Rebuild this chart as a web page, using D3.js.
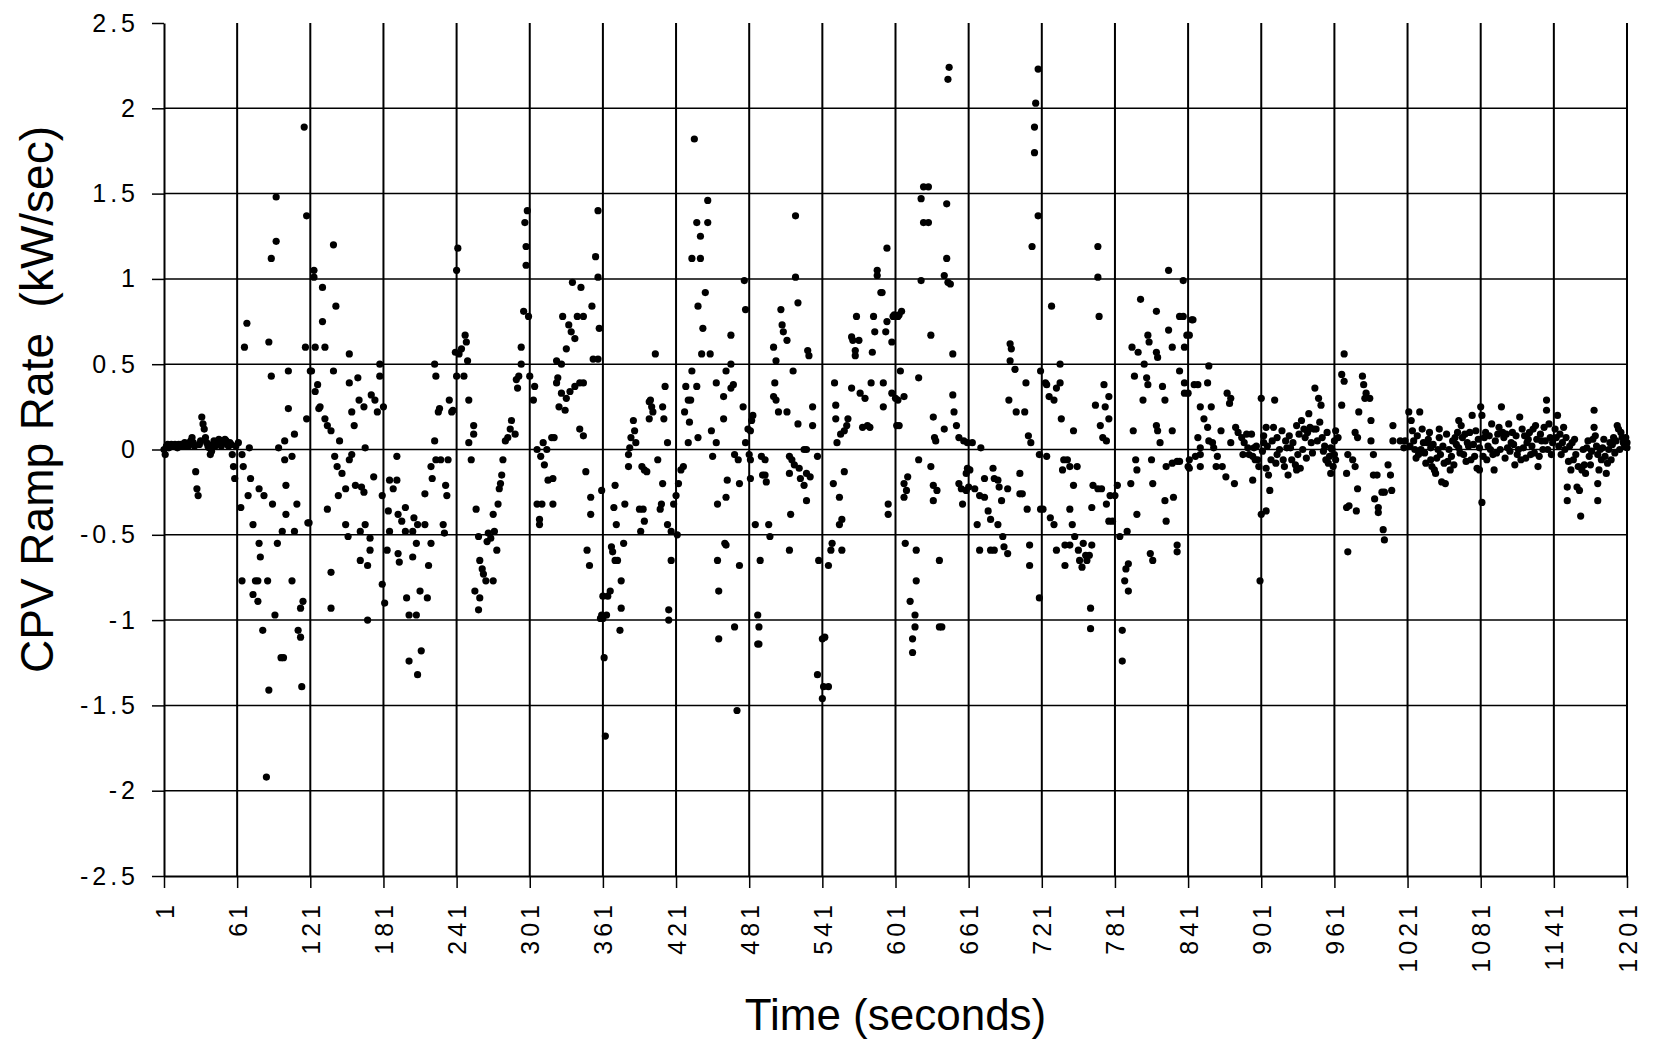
<!DOCTYPE html>
<html lang="en">
<head>
<meta charset="UTF-8">
<title>CPV Ramp Rate</title>
<script src="https://d3js.org/d3.v7.min.js"></script>
<style>
  body { margin: 0; background: #fff; }
  svg { display: block; font-family: Arial, "Liberation Sans", sans-serif; }
</style>
</head>
<body>
<div id="chart"></div>
<script>
// ramp rate samples as [second, kW/sec] in 2-minute windows
const win0001 = [[1,0.00],[2,-0.03],[3,0.02],[4,0.03],[5,0.01],[6,0.02],[7,0.03],[8,0.02],[9,0.02],[10,0.03],[11,0.02],[12,0.01],[13,0.03],[14,0.02],[15,0.03],[16,0.02],[17,0.03],[18,0.04],[19,0.02],[20,0.03],[21,0.02],[22,0.04],[23,0.05],[24,0.07],[25,0.04],[26,0.02],[27,-0.13],[28,-0.23],[29,-0.27],[30,0.03],[31,0.05],[32,0.19],[33,0.15],[34,0.12],[35,0.07],[36,0.04],[37,0.02],[38,0.01],[39,-0.03],[40,-0.01],[41,0.03],[42,0.05],[43,0.02],[44,0.03],[45,0.04],[46,0.06],[47,0.05],[48,0.02],[49,0.05],[50,0.04],[51,0.06],[52,0.05],[53,0.03],[54,0.02],[55,0.04],[56,0.03],[57,-0.03],[58,-0.10],[59,-0.17],[60,0.02],
  [116,1.89],[93,1.48],[118,1.37],[93,1.22],[89,1.12],[69,0.74],[67,0.60],[87,0.63],[117,0.60],[89,0.43],[103,0.46],[121,0.46],[103,0.24],[118,0.18],[108,0.09],[100,0.05],[95,0.01],[71,0.01],[65,-0.03],[62,0.04],[66,-0.10],[100,-0.06],[106,-0.04],[72,-0.17],[70,-0.27],[79,-0.23],[83,-0.27],[90,-0.32],[101,-0.21],[110,-0.32],[64,-0.34],[74,-0.44],[101,-0.38],[119,-0.43],[98,-0.48],[108,-0.48],[79,-0.55],[94,-0.55],[80,-0.63],[65,-0.77],[76,-0.77],[78,-0.77],[86,-0.77],[106,-0.77],[74,-0.85],[78,-0.89],[92,-0.97],[113,-0.93],[115,-0.89],[82,-1.06],[111,-1.06],[113,-1.10],[97,-1.22],[99,-1.22],[87,-1.41],[114,-1.39],[85,-1.92]];

const win0121 = [[140,1.20],[124,1.05],[124,1.01],[131,0.95],[142,0.84],[131,0.75],[125,0.60],[133,0.60],[153,0.56],[178,0.50],[178,0.43],[122,0.46],[140,0.46],[127,0.38],[125,0.34],[153,0.39],[160,0.42],[129,0.25],[128,0.24],[155,0.22],[161,0.29],[165,0.25],[171,0.32],[174,0.29],[176,0.22],[181,0.25],[133,0.18],[135,0.14],[138,0.11],[157,0.14],[145,0.05],[166,0.01],[141,-0.04],[153,-0.06],[155,-0.03],[143,-0.10],[147,-0.14],[150,-0.23],[144,-0.27],[158,-0.21],[163,-0.22],[165,-0.25],[173,-0.16],[180,-0.27],[135,-0.35],[120,-0.43],[150,-0.44],[152,-0.51],[166,-0.44],[162,-0.48],[170,-0.52],[170,-0.59],[162,-0.65],[168,-0.68],[138,-0.72],[138,-0.93],[168,-1.00],
  [192,-0.04],[186,-0.18],[192,-0.18],[189,-0.23],[180,-0.79],[182,-0.90],[185,-0.36],[186,-0.48],[184,-0.59],[193,-0.38],[199,-0.34],[196,-0.42],[199,-0.48],[206,-0.40],[209,-0.44],[215,-0.44],[205,-0.48],[208,-0.55],[220,-0.55],[193,-0.61],[194,-0.66],[205,-0.63],[218,-0.68],[200,-0.87],[211,-0.83],[217,-0.87],[202,-0.97],[208,-0.97],[202,-1.24],[212,-1.18],[209,-1.32],[215,-0.26],[220,-0.10],[221,-0.17],[224,-0.06],[228,-0.06],[234,-0.06],[232,-0.21],[233,-0.27],[230,-0.44],[231,-0.49],[223,0.05],[223,0.50],[224,0.43],[226,0.22],[227,0.24],[235,0.29],[237,0.22],[238,0.23],[242,1.18],[241,1.05],[240,0.57],[241,0.43]];

const win0241 = [[248,0.67],[249,0.63],[245,0.59],[243,0.56],[250,0.52],[247,0.43],[251,0.29],[255,0.14],[255,0.09],[251,0.04],[253,-0.06],[257,-0.35],[259,-0.51],[260,-0.65],[262,-0.70],[263,-0.73],[265,-0.77],[271,-0.77],[256,-0.83],[260,-0.87],[259,-0.94],[267,-0.49],[269,-0.52],[272,-0.48],[274,-0.59],[266,-0.54],[271,-0.38],[275,-0.32],[276,-0.23],[277,-0.20],[278,-0.15],[279,-0.06],[281,0.05],[283,0.07],[285,0.12],[286,0.17],[289,0.09],[291,0.36],[290,0.41],[292,0.43],[294,0.50],[294,0.60],[296,0.81],[300,0.78],[298,1.08],[298,1.19],[297,1.33],[299,1.40],[301,0.43],[305,0.37],[304,0.29],[307,0.00],[310,-0.04],[312,0.04],[313,-0.09],[315,0.00],[319,0.07],[321,0.07],[316,-0.18],[320,-0.17],[307,-0.32],[311,-0.32],[309,-0.41],[309,-0.44],[320,-0.32],[323,0.52],[327,0.50],[324,0.42],[323,0.39],[327,0.33],[325,0.25],[330,0.23],[331,0.30],[334,0.34],[338,0.37],[342,0.39],[345,0.39],[328,0.78],[331,0.59],[333,0.73],[335,0.69],[338,0.65],[336,0.98],[343,0.95],[340,0.78],[345,0.78],[352,0.84],[353,0.53],[357,0.53],[358,0.71],[357,1.01],[355,1.13],[357,1.40],[342,0.12],[345,0.08],[347,-0.13],[351,-0.28],[351,-0.38],[348,-0.59],[350,-0.68],[360,-0.24],[361,-0.86],[360,-0.97],[362,-1.22],[363,-1.68]];

const win0361 = [[361,-0.99],[364,-0.97],[359,-0.99],[365,-0.86],[367,-0.83],[375,-1.06],[376,-0.93],[376,-0.77],[368,-0.57],[369,-0.60],[371,-0.65],[373,-0.65],[378,-0.55],[371,-0.21],[370,-0.34],[372,-0.44],[379,-0.32],[382,-0.10],[382,-0.03],[383,0.01],[384,0.07],[387,0.11],[386,0.17],[388,0.04],[391,-0.35],[394,-0.35],[392,-0.48],[395,-0.42],[393,-0.10],[395,-0.12],[397,-0.13],[399,0.18],[399,0.28],[401,0.25],[402,0.22],[400,0.29],[406,-0.06],[404,0.56],[409,-0.32],[408,-0.35],[410,-0.20],[410,0.25],[411,0.18],[412,0.37],[414,0.04],[414,-0.44],[417,-0.48],[419,-0.32],[417,-0.65],[415,-0.94],[415,-1.00],[422,-0.50],[421,-0.27],[423,-0.20],[425,-0.12],[427,-0.10],[431,0.04],[432,0.16],[428,0.22],[429,0.37],[438,0.37],[434,0.46],[431,0.29],[433,0.29],[439,0.07],[436,1.82],[447,1.46],[438,1.33],[447,1.33],[441,1.25],[434,1.12],[441,1.12],[445,0.92],[439,0.84],[443,0.71],[442,0.56],[449,0.56],[451,-0.04],[450,0.11],[454,0.39],[454,0.04],[460,0.31],[460,0.18],[456,-0.83],[456,-1.11],[455,-0.32],[461,-0.55],[462,-0.56],[455,-0.65],[462,-0.28],[463,-0.18],[462,0.46],[466,0.67],[466,0.50],[466,0.36],[468,0.38],[477,0.99],[478,0.82],[469,-0.03],[472,-0.06],[473,-0.20],[476,0.25],[478,0.04],[480,0.12],[482,-0.17],[473,-0.68],[469,-1.04],[471,-1.53]];

const win0481 = [[482,0.11],[483,0.17],[484,0.20],[481,-0.03],[482,-0.06],[486,-0.44],[490,-0.65],[488,-0.97],[489,-1.04],[488,-1.14],[489,-1.14],[491,-0.04],[494,-0.06],[494,-0.15],[492,-0.15],[495,-0.19],[497,-0.44],[498,-0.51],[501,0.60],[503,0.52],[502,0.39],[501,0.31],[503,0.29],[505,0.22],[512,0.22],[507,0.82],[508,0.73],[509,0.69],[512,0.64],[514,-0.59],[515,-0.38],[514,-0.14],[514,-0.04],[516,-0.06],[518,-0.09],[517,0.46],[519,1.37],[519,1.01],[521,0.86],[521,0.15],[522,-0.11],[523,-0.17],[526,0.00],[526,-0.21],[528,-0.30],[528,0.00],[528,-0.14],[529,0.58],[530,0.55],[531,-0.16],[533,0.25],[533,0.14],[537,-0.04],[538,-0.65],[541,-1.11],[543,-1.10],[537,-1.32],[542,-1.39],[546,-1.39],[541,-1.46],[546,-0.68],[548,-0.59],[549,-0.55],[557,-0.59],[550,-0.20],[555,-0.28],[555,-0.44],[557,-0.41],[559,-0.13],[551,0.39],[552,0.26],[552,0.18],[553,0.04],[556,0.09],[559,0.11],[561,0.14],[562,0.18],[565,0.36],[565,0.66],[566,0.64],[568,0.58],[568,0.55],[569,0.78],[571,0.64],[572,0.33],[574,0.13],[576,0.30],[578,0.14],[580,0.13],[582,0.57],[583,0.78],[581,0.39],[584,0.69],[586,1.02],[586,1.05],[589,0.92],[590,0.92],[593,0.69],[594,0.75],[591,0.39],[591,0.25],[594,1.18],[598,0.63],[599,0.78],[600,0.79],[598,0.33],[601,0.30],[595,-0.32],[595,-0.38],[602,0.14]];

const win0601 = [[603,0.78],[606,0.81],[604,0.79],[605,0.46],[603,0.29],[604,0.14],[608,0.31],[608,-0.20],[611,-0.16],[610,-0.24],[608,-0.28],[609,-0.55],[618,-0.59],[618,-0.77],[613,-0.89],[617,-0.97],[617,-1.04],[615,-1.11],[615,-1.19],[620,0.42],[620,-0.06],[622,0.99],[622,1.47],[624,1.54],[628,1.54],[624,1.33],[628,1.33],[630,0.67],[630,-0.10],[632,0.19],[633,0.07],[634,0.05],[632,-0.21],[635,-0.24],[632,-0.30],[637,-0.65],[637,-1.04],[639,-1.04],[641,0.12],[643,1.44],[643,1.12],[641,1.02],[644,0.98],[646,0.97],[645,2.24],[644,2.17],[648,0.56],[648,0.32],[649,0.22],[651,0.14],[653,0.07],[657,0.05],[660,0.04],[664,0.04],[671,0.01],[660,-0.11],[659,-0.14],[662,-0.12],[653,-0.20],[655,-0.23],[656,-0.32],[659,-0.24],[661,-0.22],[666,-0.23],[670,-0.27],[674,-0.17],[674,-0.28],[668,-0.44],[670,-0.59],[677,-0.36],[679,-0.41],[681,-0.11],[682,-0.17],[685,-0.18],[686,-0.22],[688,-0.30],[693,-0.23],[685,-0.44],[679,-0.59],[682,-0.59],[689,-0.51],[690,-0.57],[693,-0.61],[695,0.62],[696,0.59],[695,0.52],[699,0.47],[708,0.39],[694,0.29],[700,0.22],[707,0.22],[710,0.08],[712,0.04],[703,-0.14],[703,-0.26],[705,-0.26],[709,-0.35],[711,-0.56],[711,-0.68],[719,-0.03],[720,-0.35],[719,-0.87],[713,1.19],[718,1.37],[715,1.74],[715,1.89],[716,2.03],[718,2.23],[720,0.46]];

const win0721 = [[729,0.84],[724,0.39],[725,0.38],[727,0.31],[731,0.29],[736,0.50],[736,0.39],[733,0.36],[737,0.18],[747,0.11],[725,-0.04],[739,-0.06],[742,-0.06],[738,-0.12],[744,-0.10],[750,-0.10],[747,-0.21],[722,-0.35],[728,-0.40],[731,-0.44],[744,-0.35],[746,-0.44],[748,-0.51],[744,-0.56],[740,-0.56],[733,-0.59],[740,-0.68],[751,-0.59],[752,-0.65],[754,-0.69],[757,-0.62],[758,-0.65],[755,-0.55],[760,-0.62],[762,-0.56],[761,-0.93],[761,-1.05],[762,-0.34],[763,-0.21],[767,-0.23],[770,-0.23],[774,-0.32],[776,-0.42],[779,-0.42],[777,-0.27],[781,-0.27],[783,-0.21],[765,0.26],[769,0.14],[771,0.07],[774,0.05],[772,0.38],[773,0.25],[776,0.31],[776,0.18],[767,1.19],[767,1.01],[768,0.78],[785,-0.51],[791,-0.48],[792,-0.67],[790,-0.70],[789,-0.77],[792,-0.83],[787,-1.06],[787,-1.24],[794,-0.20],[798,-0.06],[799,-0.12],[799,-0.38],[796,0.11],[804,0.29],[797,0.43],[805,0.50],[807,0.42],[808,0.38],[802,0.88],[795,0.60],[800,0.57],[808,0.67],[809,0.63],[815,0.81],[815,0.57],[816,0.54],[811,-0.06],[812,-0.20],[810,-0.61],[812,-0.65],[815,0.14],[816,0.11],[818,0.04],[820,0.37],[822,0.29],[825,0.70],[828,0.60],[825,1.05],[823,-0.10],[822,-0.30],[823,-0.42],[828,-0.08],[832,-0.07],[834,-0.07],[829,-0.28],[832,-0.56],[832,-0.60],[834,0.46],[828,0.11],[837,0.99],[834,0.78],[837,0.78],[838,0.39],[838,0.33],[840,0.67],[838,0.60],[841,-0.10]];

const win0841 = [[844,0.76],[845,0.76],[842,0.67],[846,0.38],[849,0.38],[857,0.39],[858,0.49],[841,0.33],[842,-0.06],[842,-0.11],[851,0.25],[854,0.18],[857,0.13],[860,0.25],[849,0.07],[851,0.01],[851,-0.03],[851,-0.10],[847,-0.04],[858,0.05],[861,0.04],[862,0.01],[864,-0.10],[865,-0.04],[868,0.11],[869,-0.10],[872,-0.16],[873,0.33],[876,0.30],[875,0.27],[880,0.13],[882,0.10],[876,0.04],[879,-0.20],[885,0.07],[887,0.04],[886,-0.03],[890,0.01],[889,0.09],[893,0.09],[891,-0.03],[894,-0.04],[895,0.01],[896,-0.06],[894,-0.18],[898,-0.06],[901,0.30],[902,-0.01],[905,0.13],[903,0.04],[905,-0.11],[907,-0.15],[908,-0.24],[901,-0.38],[905,-0.36],[900,-0.77],[912,0.29],[911,0.13],[914,0.07],[914,-0.03],[909,-0.06],[918,0.11],[921,0.05],[922,0.01],[919,-0.06],[925,0.01],[926,-0.06],[929,-0.09],[923,-0.15],[930,-0.12],[933,-0.11],[930,0.14],[932,0.09],[934,0.17],[936,0.12],[937,0.07],[940,0.21],[941,0.13],[942,0.04],[944,0.12],[946,0.12],[945,0.36],[948,0.30],[950,0.26],[952,-0.01],[954,-0.06],[958,0.01],[958,-0.14],[961,0.05],
  [897,0.02],[899,-0.10],[903,0.08],[906,0.02],[910,0.05],[913,-0.08],[916,0.00],[920,-0.10],[924,0.08],[927,0.04],[931,-0.03],[935,0.00],[938,-0.05],[939,0.10],[943,-0.02],[947,0.05],[949,0.16],[951,0.07],[953,0.02],[955,0.10],[956,-0.08],[959,0.00],[960,-0.10]];

const win0961 = [[969,0.56],[967,0.44],[969,0.40],[967,0.26],[962,0.11],[964,0.07],[961,-0.03],[962,-0.06],[957,-0.04],[978,0.10],[980,0.07],[972,-0.03],[976,-0.06],[978,-0.10],[971,-0.14],[980,-0.23],[971,-0.34],[973,-0.33],[979,-0.36],[972,-0.60],[984,0.43],[985,0.38],[986,0.30],[987,0.33],[981,0.22],[990,0.30],[991,0.17],[991,0.05],[993,-0.03],[993,-0.15],[996,-0.15],[994,-0.29],[997,-0.34],[1000,-0.25],[1002,-0.25],[997,-0.37],[1001,-0.47],[1002,-0.53],[1005,-0.09],[1007,-0.15],[1008,-0.24],[1009,0.05],[1009,0.14],[1015,0.05],[1018,0.01],[1019,0.05],[1022,0.22],[1024,0.17],[1025,0.11],[1026,0.05],[1031,0.22],[1033,0.12],[1034,0.04],[1030,-0.03],[1037,0.04],[1040,0.01],[1040,-0.06],[1041,-0.10],[1044,-0.14],[1047,0.12],[1047,0.07],[1048,-0.03],[1049,-0.19],[1052,-0.20],[1054,-0.07],[1056,-0.12],[1058,0.05],[1060,0.07],[1063,0.17],[1063,0.01],[1066,0.07],[1067,-0.03],[1070,0.04],[1074,0.20],[1073,-0.06],[1077,0.11],[1078,-0.11],[1080,0.01],
  [1023,0.02],[1027,0.00],[1028,-0.05],[1029,0.08],[1032,0.00],[1035,-0.02],[1036,-0.08],[1038,0.06],[1039,0.10],[1042,0.03],[1043,-0.12],[1045,-0.05],[1046,0.00],[1050,0.02],[1051,-0.08],[1053,0.09],[1055,0.00],[1057,-0.04],[1059,-0.09],[1061,0.03],[1062,0.10],[1064,-0.02],[1065,0.14],[1068,0.09],[1069,-0.07],[1071,0.02],[1072,0.10],[1075,0.03],[1076,-0.04],[1079,0.06]];

const win1081 = [[1081,0.25],[1082,-0.31],[1082,0.20],[1080,-0.12],[1084,0.07],[1087,0.02],[1091,-0.03],[1092,-0.12],[1096,0.13],[1098,0.25],[1100,0.07],[1103,0.01],[1106,0.04],[1109,-0.09],[1111,-0.03],[1113,0.19],[1115,0.12],[1116,0.01],[1119,0.04],[1122,-0.03],[1124,0.12],[1126,0.14],[1128,-0.10],[1129,-0.04],[1131,0.05],[1133,0.13],[1135,0.29],[1135,0.23],[1138,0.07],[1139,-0.03],[1142,0.12],[1144,0.20],[1147,-0.03],[1149,0.13],[1151,0.07],[1152,-0.22],[1152,-0.30],[1153,-0.07],[1156,0.04],[1159,-0.03],[1160,-0.22],[1162,-0.24],[1163,-0.39],[1164,-0.12],[1166,-0.09],[1168,0.01],[1170,-0.04],[1171,-0.09],[1174,0.23],[1174,0.13],[1175,0.08],[1177,-0.03],[1177,-0.20],[1177,-0.30],[1180,-0.06],[1181,0.01],[1184,-0.14],[1187,0.04],[1190,0.07],[1193,0.14],[1194,0.12],[1197,0.07],[1198,0.04],[1201,0.04],[1201,0.01],
  [1083,-0.04],[1085,0.10],[1086,-0.06],[1088,0.08],[1089,0.00],[1090,0.15],[1093,0.05],[1094,-0.02],[1095,0.09],[1097,0.00],[1099,0.10],[1101,-0.05],[1102,0.09],[1104,0.15],[1105,-0.01],[1107,0.10],[1108,0.03],[1110,0.08],[1112,0.00],[1114,-0.06],[1117,0.08],[1118,-0.05],[1120,0.06],[1121,0.10],[1123,0.02],[1125,-0.02],[1127,0.06],[1130,0.09],[1132,0.00],[1134,0.05],[1136,0.00],[1137,0.15],[1140,0.04],[1143,0.07],[1145,0.02],[1146,0.09],[1148,0.04],[1150,0.00],[1154,0.02],[1155,-0.12],[1157,-0.06],[1158,0.06],[1161,-0.10],[1165,0.00],[1167,-0.14],[1169,0.05],[1172,-0.01],[1173,0.06],[1176,0.02],[1178,-0.12],[1179,0.00],[1182,0.06],[1183,-0.04],[1185,-0.08],[1186,0.00],[1188,-0.06],[1189,0.03],[1191,-0.02],[1192,0.05],[1195,0.00],[1196,0.10],[1199,0.02],[1200,0.07]];

const xTicks = [1, 61, 121, 181, 241, 301, 361, 421, 481, 541, 601, 661, 721, 781, 841, 901, 961, 1021, 1081, 1141, 1201];
const yTicks = [2.5, 2, 1.5, 1, 0.5, 0, -0.5, -1, -1.5, -2, -2.5];

const samples = [].concat(win0001, win0121, win0241, win0361, win0481, win0601, win0721, win0841, win0961, win1081);

const W = 1657, H = 1041;
const plotL = 164, plotR = 1627, plotT = 23, plotB = 876;

const svg = d3.select("#chart").append("svg")
  .attr("width", W)
  .attr("height", H);

const x = d3.scaleLinear().domain([1, 1201]).range([plotL, plotR]);
const y = d3.scaleLinear().domain([-2.5, 2.5]).range([plotB, plotT]);

// grid
svg.append("g")
  .selectAll("line")
  .data(yTicks.filter(d => d > -2.5 && d < 2.5))
  .join("line")
  .attr("x1", plotL).attr("x2", plotR)
  .attr("y1", d => y(d)).attr("y2", d => y(d))
  .attr("stroke", "#000").attr("stroke-width", 1.5);

svg.append("g")
  .selectAll("line")
  .data(xTicks.slice(1))
  .join("line")
  .attr("x1", d => x(d)).attr("x2", d => x(d))
  .attr("y1", plotT).attr("y2", plotB)
  .attr("stroke", "#000").attr("stroke-width", 2);

// axes
const tickFont = 25, ls = 4;

const yAxis = svg.append("g")
  .attr("transform", `translate(${plotL},0)`)
  .call(d3.axisLeft(y).tickValues(yTicks).tickFormat(d => String(d)).tickSize(12).tickSizeOuter(0).tickPadding(17 - ls));
yAxis.select(".domain").attr("stroke-width", 2);
yAxis.selectAll(".tick line").attr("stroke-width", 1.5);
yAxis.selectAll("text")
  .attr("font-size", tickFont)
  .attr("letter-spacing", ls)
  .attr("font-family", "Arial, 'Liberation Sans', sans-serif")
  .attr("fill", "#000");

const xAxis = svg.append("g")
  .attr("transform", `translate(0,${plotB})`)
  .call(d3.axisBottom(x).tickValues(xTicks).tickFormat(d => String(d)).tickSize(12).tickSizeOuter(0));
xAxis.select(".domain").attr("stroke-width", 2);
xAxis.selectAll(".tick line").attr("stroke-width", 1.5);
xAxis.selectAll("text")
  .attr("transform", "rotate(-90)")
  .attr("x", -(29 - ls))
  .attr("y", 0)
  .attr("dy", "0.36em")
  .attr("text-anchor", "end")
  .attr("font-size", tickFont)
  .attr("letter-spacing", ls)
  .attr("font-family", "Arial, 'Liberation Sans', sans-serif")
  .attr("fill", "#000");

// points
svg.append("g")
  .selectAll("circle")
  .data(samples)
  .join("circle")
  .attr("cx", d => x(d[0]))
  .attr("cy", d => y(d[1]))
  .attr("r", 3.6)
  .attr("fill", "#000");

// titles
svg.append("text")
  .attr("x", (plotL + plotR) / 2)
  .attr("y", 1030)
  .attr("text-anchor", "middle")
  .attr("font-size", 44)
  .text("Time (seconds)");

svg.append("text")
  .attr("transform", `translate(53,${(plotT + plotB) / 2 - 50}) rotate(-90)`)
  .attr("text-anchor", "middle")
  .attr("font-size", 46)
  .style("white-space", "pre")
  .text("CPV Ramp Rate  (kW/sec)");
</script>
</body>
</html>
